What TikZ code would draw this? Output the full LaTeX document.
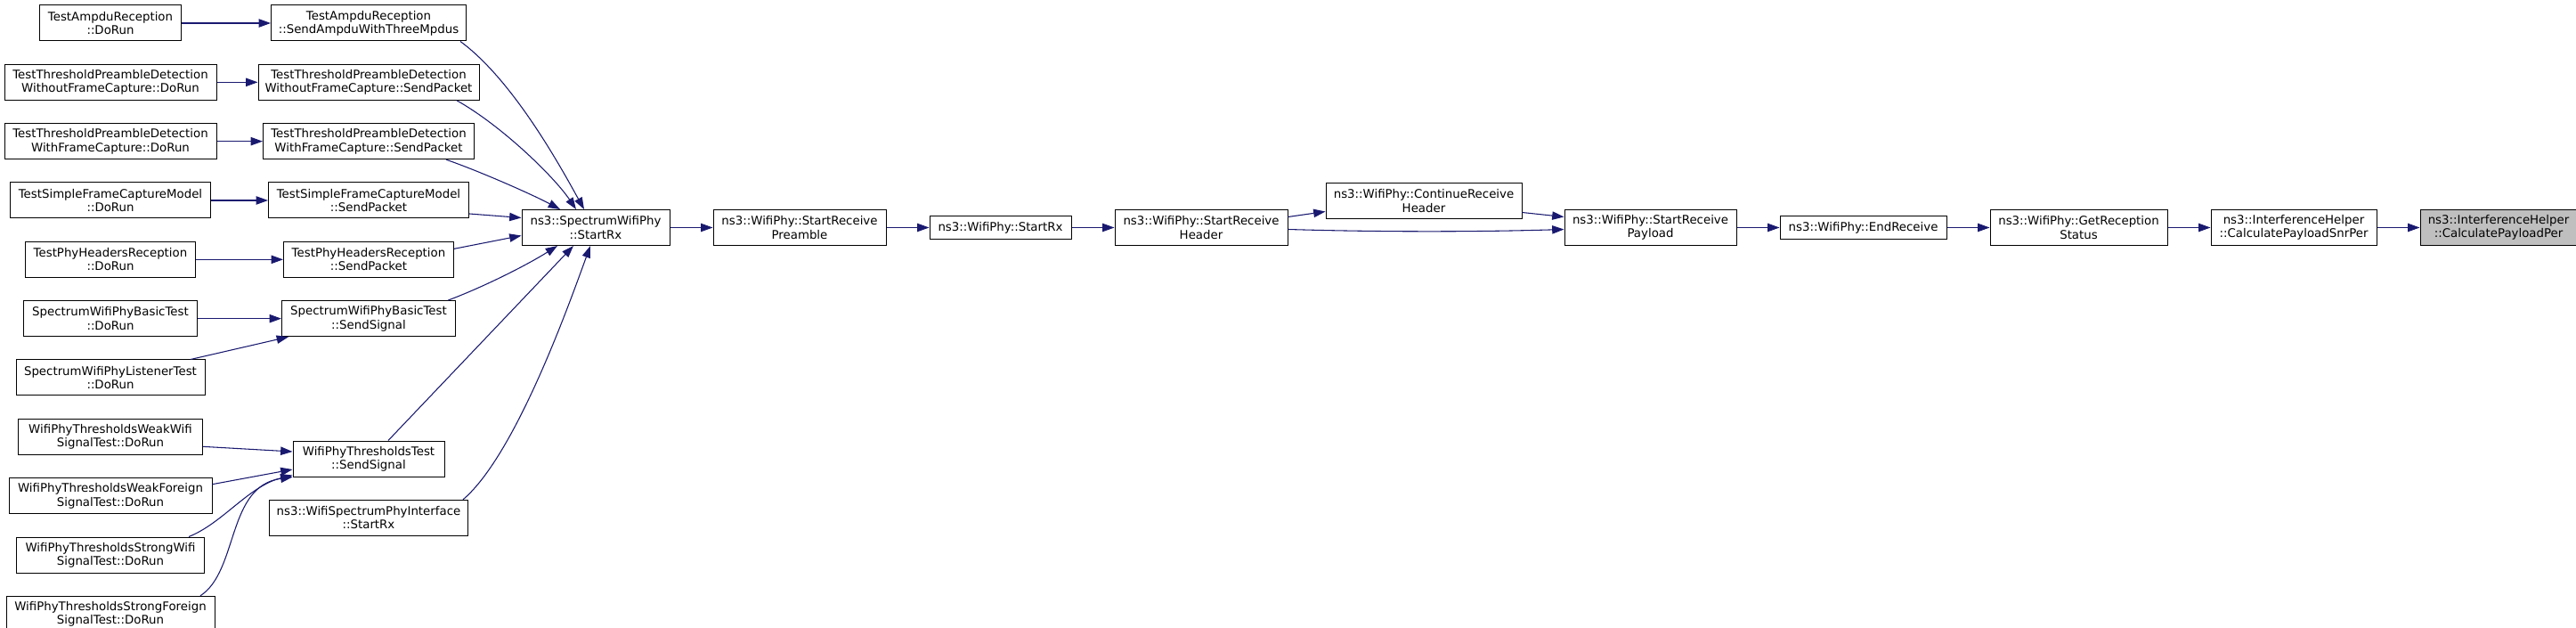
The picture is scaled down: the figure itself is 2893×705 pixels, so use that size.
\documentclass[tikz,border=0pt]{standalone}
\usepackage{fontspec}
\setmainfont{DejaVu Sans}
\usepackage{tikz}
\usetikzlibrary{positioning,arrows.meta}
\usepackage{xcolor}
\definecolor{callblue}{HTML}{191970}
\definecolor{curgray}{HTML}{BFBFBF}
\tikzset{
  fn/.style={draw=black,fill=white,line width=0.75pt,align=center,inner sep=1pt,
    minimum height=30pt,font=\fontsize{10}{11.5}\selectfont},
  fnone/.style={fn,minimum height=19.5pt},
  wd/.style={minimum width=#1*0.75pt},
}

\begin{document}
\begin{tikzpicture}[x=0.75pt,y=-0.75pt,>={Triangle[length=10pt,width=7pt]},node distance=19pt and 36pt,
  call/.style={->,callblue,line width=0.8pt}]
\useasboundingbox (0,0) rectangle (2893,705);
% test drivers
\node[fn,wd=159] (d1) at (124,26) {TestAmpduReception\\::DoRun};
\node[fn,wd=238,below=of d1] (d2) {TestThresholdPreambleDetection\\WithoutFrameCapture::DoRun};
\node[fn,wd=238,below=of d2] (d3) {TestThresholdPreambleDetection\\WithFrameCapture::DoRun};
\node[fn,wd=225,below=of d3] (d4) {TestSimpleFrameCaptureModel\\::DoRun};
\node[fn,wd=191,below=of d4] (d5) {TestPhyHeadersReception\\::DoRun};
\node[fn,wd=195,below=of d5] (d6) {SpectrumWifiPhyBasicTest\\::DoRun};
\node[fn,wd=212,below=of d6] (d7) {SpectrumWifiPhyListenerTest\\::DoRun};
\node[fn,wd=207,below=of d7] (d8) {WifiPhyThresholdsWeakWifi\\SignalTest::DoRun};
\node[fn,wd=228,below=of d8] (d9) {WifiPhyThresholdsWeakForeign\\SignalTest::DoRun};
\node[fn,wd=211,below=of d9] (d10) {WifiPhyThresholdsStrongWifi\\SignalTest::DoRun};
\node[fn,wd=234,below=of d10] (d11) {WifiPhyThresholdsStrongForeign\\SignalTest::DoRun};
% senders
\node[fn,wd=219] (s1) at (414,26) {TestAmpduReception\\::SendAmpduWithThreeMpdus};
\node[fn,wd=248,below=of s1] (s2) {TestThresholdPreambleDetection\\WithoutFrameCapture::SendPacket};
\node[fn,wd=237,below=of s2] (s3) {TestThresholdPreambleDetection\\WithFrameCapture::SendPacket};
\node[fn,wd=225,below=of s3] (s4) {TestSimpleFrameCaptureModel\\::SendPacket};
\node[fn,wd=191,below=of s4] (s5) {TestPhyHeadersReception\\::SendPacket};
\node[fn,wd=195,below=of s5] (s6) {SpectrumWifiPhyBasicTest\\::SendSignal};
\node[fn,wd=170] (s7) at (414,515) {WifiPhyThresholdsTest\\::SendSignal};
\node[fn,wd=223,below=of s7] (s8) {ns3::WifiSpectrumPhyInterface\\::StartRx};
% receive chain
\node[fn,wd=166] (r0) at (669,255.5) {ns3::SpectrumWifiPhy\\::StartRx};
\node[fn,wd=194,right=of r0] (r1) {ns3::WifiPhy::StartReceive\\Preamble};
\node[fnone,wd=159,right=of r1] (r2) {ns3::WifiPhy::StartRx};
\node[fn,wd=194,right=of r2] (r3) {ns3::WifiPhy::StartReceive\\Header};
\node[fn,wd=220] (r4) at (1599,225.5) {ns3::WifiPhy::ContinueReceive\\Header};
\node[fn,wd=193] (r5) at (1853.5,255.5) {ns3::WifiPhy::StartReceive\\Payload};
\node[fnone,wd=187,right=of r5] (r6) {ns3::WifiPhy::EndReceive};
\node[fn,wd=199,right=of r6] (r7) {ns3::WifiPhy::GetReception\\Status};
\node[fn,wd=186,right=of r7] (r8) {ns3::InterferenceHelper\\::CalculatePayloadSnrPer};
\node[fn,wd=176,fill=curgray,right=of r8] (r9) {ns3::InterferenceHelper\\::CalculatePayloadPer};

\draw[call] (d1) -- (s1);
\draw[call] (d2) -- (s2);
\draw[call] (d3) -- (s3);
\draw[call] (d4) -- (s4);
\draw[call] (d5) -- (s5);
\draw[call] (d6) -- (s6);
\draw[call] ([shift={(90,0)}]d7.north) -- ([shift={(-90,0)}]s6.south);
\draw[call] ([shift={(0,11)}]d8.east) -- ([shift={(0,-8)}]s7.west);
\draw[call] ([shift={(0,-13)}]d9.east) -- ([shift={(0,12)}]s7.west);
\draw[call] ([shift={(88,0)}]d10.north) .. controls +(38,-15) and +(-49,12) .. ([shift={(0,-2)}]s7.south west);
\draw[call] ([shift={(101,0)}]d11.north) .. controls +(43,-28) and +(-74,10) .. (s7.south west);

\draw[call] ([shift={(103,0)}]s1.south) .. controls +(60,44) and +(-25,-45) .. ([shift={(-13,0)}]r0.north);
\draw[call] ([shift={(99,0)}]s2.south) .. controls +(50,28) and +(-25,-37) .. ([shift={(-22,0)}]r0.north);
\draw[call] ([shift={(87,0)}]s3.south) .. controls +(40,14) and +(-30,-16) .. ([shift={(-40,0)}]r0.north);
\draw[call] ([shift={(0,15)}]s4.east) -- ([shift={(0,-11)}]r0.west);
\draw[call] ([shift={(0,-12)}]s5.east) -- ([shift={(0,9)}]r0.west);
\draw[call] ([shift={(89,0)}]s6.north) .. controls +(40,-15) and +(-35,22) .. ([shift={(-43,0)}]r0.south);
\draw[call] ([shift={(22,0)}]s7.north) -- ([shift={(-25,0)}]r0.south);
\draw[call] ([shift={(106,0)}]s8.north) .. controls +(60,-51) and +(-22,60) .. ([shift={(-6,0)}]r0.south);

\draw[call] (r0) -- (r1);
\draw[call] (r1) -- (r2);
\draw[call] (r2) -- (r3);
\draw[call] ([shift={(0,-12)}]r3.east) -- ([shift={(0,12)}]r4.west);
\draw[call] ([shift={(0,2)}]r3.east) .. controls +(100,3) and +(-100,3) .. ([shift={(0,2)}]r5.west);
\draw[call] ([shift={(0,13)}]r4.east) -- ([shift={(0,-12)}]r5.west);
\draw[call] (r5) -- (r6);
\draw[call] (r6) -- (r7);
\draw[call] (r7) -- (r8);
\draw[call] (r8) -- (r9);
\end{tikzpicture}
\end{document}
